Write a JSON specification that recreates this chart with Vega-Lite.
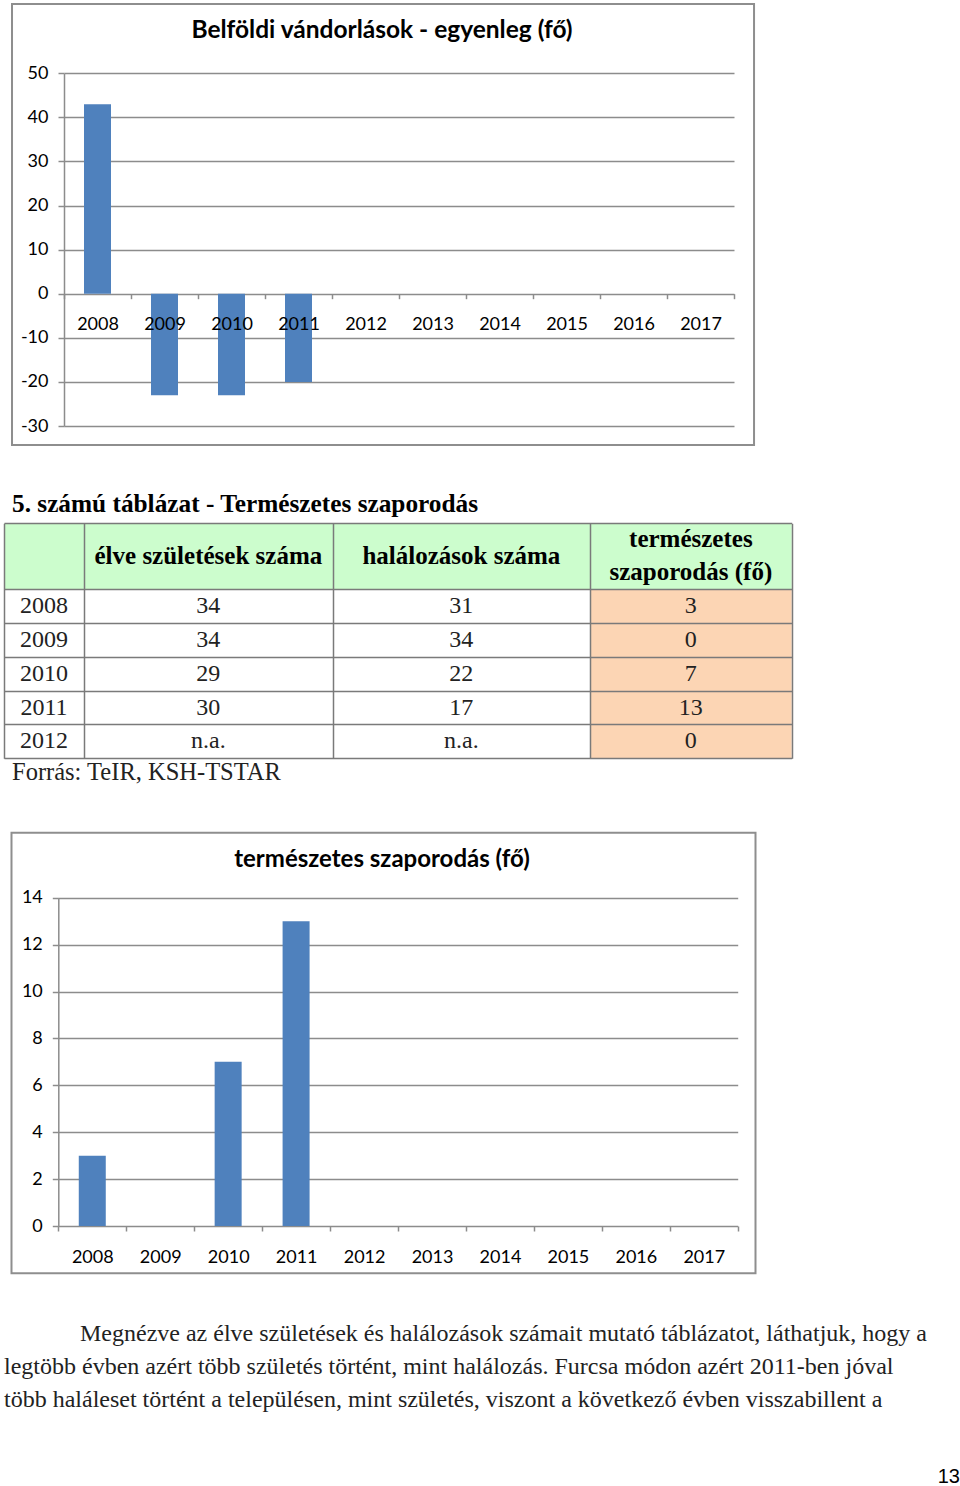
{
  "$schema": "https://vega.github.io/schema/vega-lite/v6.json",
  "padding": 0,
  "spacing": 0,
  "bounds": "flush",
  "background": "white",
  "config": {"view": {"stroke": null}},
  "vconcat": [
    {
      "width": 960,
      "height": 470,
      "data": {"values": [
        {"ev": 2008, "egyenleg": 43},
        {"ev": 2009, "egyenleg": -23},
        {"ev": 2010, "egyenleg": -23},
        {"ev": 2011, "egyenleg": -20},
        {"ev": 2012, "egyenleg": null},
        {"ev": 2013, "egyenleg": null},
        {"ev": 2014, "egyenleg": null},
        {"ev": 2015, "egyenleg": null},
        {"ev": 2016, "egyenleg": null},
        {"ev": 2017, "egyenleg": null}
      ]},
      "layer": [
        {
          "mark": {"type": "bar", "size": 27, "color": "#4f81bd"},
          "encoding": {
            "x": {"field": "ev", "type": "quantitative",
              "scale": {"domain": [2007.5, 2017.5], "range": [64, 734], "padding": 0, "nice": false, "zero": false},
              "axis": {"title": null, "values": [2007.5, 2008.5, 2009.5, 2010.5, 2011.5, 2012.5, 2013.5, 2014.5, 2015.5, 2016.5, 2017.5],
                "labelExpr": "datum.value < 2017 ? format(datum.value + 0.5, 'd') : ''",
                "labelOffset": 33.5, "labelPadding": 17, "tickSize": 5, "tickColor": "#8c8c8c", "tickWidth": 1.5,
                "domain": false, "grid": false, "offset": -176.3, "labelFont": "Lato", "labelFontSize": 18,
                "labelColor": "#000000", "labelFlush": false, "labelOverlap": false, "labelBound": false, "zindex": 1}},
            "y": {"field": "egyenleg", "type": "quantitative",
              "scale": {"domain": [-30, 50], "range": [426, 73.3], "nice": false, "zero": false},
              "axis": {"title": null, "values": [-30, -20, -10, 0, 10, 20, 30, 40, 50], "labelExpr": "toString(datum.value)",
                "offset": -64, "grid": true, "gridColor": "#8c8c8c", "gridWidth": 1.5,
                "domain": true, "domainColor": "#8c8c8c", "domainWidth": 1.5,
                "tickSize": 6, "tickColor": "#8c8c8c", "tickWidth": 1.5, "labelPadding": 10,
                "labelFont": "Lato", "labelFontSize": 18, "labelColor": "#000000",
                "labelFlush": false, "labelOverlap": false, "zindex": 0}}
          }
        },
        {
          "data": {"values": [{"keret": 1}]},
          "mark": {"type": "rect", "filled": false, "stroke": "#8e8e8e", "strokeWidth": 2},
          "encoding": {
            "x": {"datum": 2006.724}, "x2": {"datum": 2017.799},
            "y": {"datum": 65.72}, "y2": {"datum": -34.31}
          }
        },
        {
          "data": {"values": [{"cim": "Belföldi vándorlások - egyenleg (fő)"}]},
          "mark": {"type": "text", "font": "Lato", "fontWeight": "bold", "fontSize": 24.5, "align": "center", "baseline": "middle", "color": "#000000"},
          "encoding": {
            "x": {"datum": 2012.246}, "y": {"datum": 59.59},
            "text": {"field": "cim", "type": "nominal"}
          }
        }
      ]
    },
    {
      "width": 960,
      "height": 330,
      "data": {"values": [
        {"ev": 2008, "szul": "34", "hal": "31", "term": "3"},
        {"ev": 2009, "szul": "34", "hal": "34", "term": "0"},
        {"ev": 2010, "szul": "29", "hal": "22", "term": "7"},
        {"ev": 2011, "szul": "30", "hal": "17", "term": "13"},
        {"ev": 2012, "szul": "n.a.", "hal": "n.a.", "term": "0"}
      ]},
      "layer": [
        {
          "data": {"values": [{"cella": "fejléc"}]},
          "mark": {"type": "rect", "fill": "#ccfdcd"},
          "encoding": {
            "x": {"datum": 0, "scale": {"domain": [0, 1, 2, 3, 4], "range": [4, 84, 332.7, 590, 791.7], "nice": false, "zero": false},
              "axis": {"title": null, "orient": "top", "values": [0, 1, 2, 3, 4], "labels": false, "ticks": false, "domain": false,
                "grid": true, "gridColor": "#7a7a7a", "gridWidth": 1.5, "zindex": 1}},
            "x2": {"datum": 4},
            "y": {"datum": 2006.5, "scale": {"domain": [2006.5, 2007.5, 2012.5], "range": [53.3, 119, 288.3], "nice": false, "zero": false},
              "axis": {"title": null, "values": [2006.5, 2007.5, 2008.5, 2009.5, 2010.5, 2011.5, 2012.5], "labels": false, "ticks": false, "domain": false,
                "grid": true, "gridColor": "#7a7a7a", "gridWidth": 1.5, "zindex": 1}},
            "y2": {"datum": 2007.5}
          }
        },
        {
          "data": {"values": [{"cella": "szaporodás"}]},
          "mark": {"type": "rect", "fill": "#fcd5b4"},
          "encoding": {
            "x": {"datum": 3}, "x2": {"datum": 4},
            "y": {"datum": 2007.5}, "y2": {"datum": 2012.5}
          }
        },
        {
          "data": {"values": [{"cim": "5. számú táblázat - Természetes szaporodás"}]},
          "mark": {"type": "text", "font": "Liberation Serif", "fontWeight": "bold", "fontSize": 25.3, "align": "left", "baseline": "middle", "color": "#000000"},
          "encoding": {"x": {"datum": 0.1}, "y": {"datum": 2006.206}, "text": {"field": "cim", "type": "nominal"}}
        },
        {
          "data": {"values": [{"forras": "Forrás: TeIR, KSH-TSTAR"}]},
          "mark": {"type": "text", "font": "Liberation Serif", "fontSize": 24.5, "align": "left", "baseline": "middle", "color": "#222222"},
          "encoding": {"x": {"datum": 0.1}, "y": {"datum": 2012.934}, "text": {"field": "forras", "type": "nominal"}}
        },
        {
          "data": {"values": [{"fej": "élve születések száma"}]},
          "mark": {"type": "text", "font": "Liberation Serif", "fontWeight": "bold", "fontSize": 25, "align": "center", "baseline": "middle", "color": "#000000"},
          "encoding": {"x": {"datum": 1.5}, "y": {"datum": 2007}, "text": {"field": "fej", "type": "nominal"}}
        },
        {
          "data": {"values": [{"fej": "halálozások száma"}]},
          "mark": {"type": "text", "font": "Liberation Serif", "fontWeight": "bold", "fontSize": 25, "align": "center", "baseline": "middle", "color": "#000000"},
          "encoding": {"x": {"datum": 2.5}, "y": {"datum": 2007}, "text": {"field": "fej", "type": "nominal"}}
        },
        {
          "data": {"values": [{"fej": "természetes\nszaporodás (fő)"}]},
          "mark": {"type": "text", "font": "Liberation Serif", "fontWeight": "bold", "fontSize": 25, "align": "center", "baseline": "middle", "lineBreak": "\n", "lineHeight": 33, "color": "#000000"},
          "encoding": {"x": {"datum": 3.5}, "y": {"datum": 2006.739}, "text": {"field": "fej", "type": "nominal"}}
        },
        {
          "mark": {"type": "text", "font": "Liberation Serif", "fontSize": 24, "align": "center", "baseline": "middle", "color": "#222222"},
          "encoding": {"x": {"datum": 0.5}, "y": {"field": "ev", "type": "quantitative"}, "text": {"field": "ev", "type": "nominal"}}
        },
        {
          "mark": {"type": "text", "font": "Liberation Serif", "fontSize": 24, "align": "center", "baseline": "middle", "color": "#222222"},
          "encoding": {"x": {"datum": 1.5}, "y": {"field": "ev", "type": "quantitative"}, "text": {"field": "szul", "type": "nominal"}}
        },
        {
          "mark": {"type": "text", "font": "Liberation Serif", "fontSize": 24, "align": "center", "baseline": "middle", "color": "#222222"},
          "encoding": {"x": {"datum": 2.5}, "y": {"field": "ev", "type": "quantitative"}, "text": {"field": "hal", "type": "nominal"}}
        },
        {
          "mark": {"type": "text", "font": "Liberation Serif", "fontSize": 24, "align": "center", "baseline": "middle", "color": "#222222"},
          "encoding": {"x": {"datum": 3.5}, "y": {"field": "ev", "type": "quantitative"}, "text": {"field": "term", "type": "nominal"}}
        }
      ]
    },
    {
      "width": 960,
      "height": 490,
      "data": {"values": [
        {"ev": 2008, "szaporodas": 3},
        {"ev": 2009, "szaporodas": 0},
        {"ev": 2010, "szaporodas": 7},
        {"ev": 2011, "szaporodas": 13},
        {"ev": 2012, "szaporodas": 0},
        {"ev": 2013, "szaporodas": null},
        {"ev": 2014, "szaporodas": null},
        {"ev": 2015, "szaporodas": null},
        {"ev": 2016, "szaporodas": null},
        {"ev": 2017, "szaporodas": null}
      ]},
      "layer": [
        {
          "mark": {"type": "bar", "size": 27, "color": "#4f81bd"},
          "encoding": {
            "x": {"field": "ev", "type": "quantitative",
              "scale": {"domain": [2007.5, 2017.5], "range": [58.3, 737.7], "padding": 0, "nice": false, "zero": false},
              "axis": {"title": null, "values": [2007.5, 2008.5, 2009.5, 2010.5, 2011.5, 2012.5, 2013.5, 2014.5, 2015.5, 2016.5, 2017.5],
                "labelExpr": "datum.value < 2017 ? format(datum.value + 0.5, 'd') : ''",
                "labelOffset": 34, "labelPadding": 17, "tickSize": 5, "tickColor": "#8c8c8c", "tickWidth": 1.5,
                "domain": false, "grid": false, "offset": -64, "labelFont": "Lato", "labelFontSize": 18,
                "labelColor": "#000000", "labelFlush": false, "labelOverlap": false, "labelBound": false, "zindex": 1}},
            "y": {"field": "szaporodas", "type": "quantitative",
              "scale": {"domain": [0, 14], "range": [426, 97.7], "nice": false, "zero": false},
              "axis": {"title": null, "values": [0, 2, 4, 6, 8, 10, 12, 14], "labelExpr": "toString(datum.value)",
                "offset": -58.3, "grid": true, "gridColor": "#8c8c8c", "gridWidth": 1.5,
                "domain": true, "domainColor": "#8c8c8c", "domainWidth": 1.5,
                "tickSize": 6, "tickColor": "#8c8c8c", "tickWidth": 1.5, "labelPadding": 10,
                "labelFont": "Lato", "labelFontSize": 18, "labelColor": "#000000",
                "labelFlush": false, "labelOverlap": false, "zindex": 0}}
          }
        },
        {
          "data": {"values": [{"keret": 1}]},
          "mark": {"type": "rect", "filled": false, "stroke": "#8e8e8e", "strokeWidth": 2},
          "encoding": {
            "x": {"datum": 2006.811}, "x2": {"datum": 2017.762},
            "y": {"datum": 16.772}, "y2": {"datum": -2.017}
          }
        },
        {
          "data": {"values": [{"cim": "természetes szaporodás (fő)"}]},
          "mark": {"type": "text", "font": "Lato", "fontWeight": "bold", "fontSize": 24, "align": "center", "baseline": "middle", "color": "#000000"},
          "encoding": {
            "x": {"datum": 2012.264}, "y": {"datum": 15.61},
            "text": {"field": "cim", "type": "nominal"}
          }
        }
      ]
    },
    {
      "width": 960,
      "height": 196,
      "data": {"values": [
        {"sor": 1, "szoveg": "Megnézve az élve születések és halálozások számait mutató táblázatot, láthatjuk, hogy a"},
        {"sor": 2, "szoveg": "legtöbb évben azért több születés történt, mint halálozás. Furcsa módon azért 2011-ben jóval"},
        {"sor": 3, "szoveg": "több haláleset történt a településen, mint születés, viszont a következő évben visszabillent a"}
      ]},
      "layer": [
        {
          "transform": [{"filter": "datum.sor == 1"}],
          "mark": {"type": "text", "font": "Liberation Serif", "fontSize": 24, "align": "left", "baseline": "middle", "color": "#222222"},
          "encoding": {
            "x": {"datum": 0.0795, "scale": {"domain": [0, 1], "range": [4, 960], "nice": false, "zero": false}, "axis": null},
            "y": {"field": "sor", "type": "quantitative", "scale": {"domain": [1, 3], "range": [44, 109.5], "nice": false, "zero": false}, "axis": null},
            "text": {"field": "szoveg", "type": "nominal"}
          }
        },
        {
          "transform": [{"filter": "datum.sor > 1"}],
          "mark": {"type": "text", "font": "Liberation Serif", "fontSize": 24, "align": "left", "baseline": "middle", "color": "#222222"},
          "encoding": {
            "x": {"datum": 0, "axis": null},
            "y": {"field": "sor", "type": "quantitative", "axis": null},
            "text": {"field": "szoveg", "type": "nominal"}
          }
        },
        {
          "data": {"values": [{"oldal": "13"}]},
          "mark": {"type": "text", "font": "Liberation Sans", "fontSize": 20, "align": "right", "baseline": "middle", "color": "#000000"},
          "encoding": {
            "x": {"datum": 1, "axis": null}, "y": {"datum": 5.366, "axis": null},
            "text": {"field": "oldal", "type": "nominal"}
          }
        }
      ]
    }
  ]
}
